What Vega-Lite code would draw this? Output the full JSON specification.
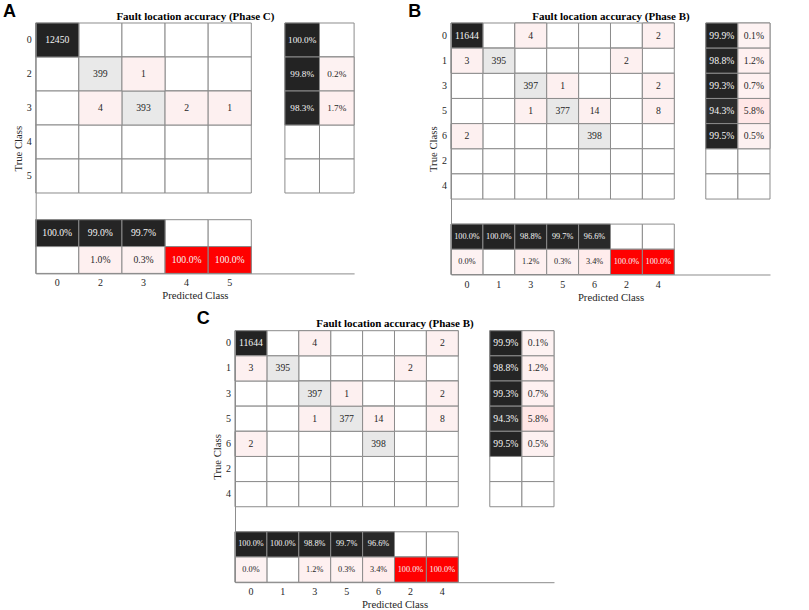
{
  "$schema": "https://vega.github.io/schema/vega-lite/v6.json",
  "autosize": {"type": "pad"},
  "padding": {"left": 2.7, "top": 2, "right": 0, "bottom": 0},
  "background": "white",
  "config": {
    "view": {"stroke": null},
    "font": "Liberation Serif",
    "text": {"font": "Liberation Serif", "fontSize": 10},
    "axis": {
      "labelFont": "Liberation Serif", "titleFont": "Liberation Serif",
      "labelFontSize": 10, "titleFontSize": 10.7,
      "labelColor": "#262626", "titleColor": "#262626", "titleFontWeight": "normal",
      "domainColor": "#8c8c8c", "domainWidth": 1, "ticks": false, "grid": false,
      "labelPadding": 4.5, "titlePadding": 3, "labelAngle": 0
    }
  },
  "datasets": {
    "A_main": [
      {"t":"0","p":"0","n":12450},{"t":"0","p":"2","n":null},{"t":"0","p":"3","n":null},{"t":"0","p":"4","n":null},{"t":"0","p":"5","n":null},
      {"t":"2","p":"0","n":null},{"t":"2","p":"2","n":399},{"t":"2","p":"3","n":1},{"t":"2","p":"4","n":null},{"t":"2","p":"5","n":null},
      {"t":"3","p":"0","n":null},{"t":"3","p":"2","n":4},{"t":"3","p":"3","n":393},{"t":"3","p":"4","n":2},{"t":"3","p":"5","n":1},
      {"t":"4","p":"0","n":null},{"t":"4","p":"2","n":null},{"t":"4","p":"3","n":null},{"t":"4","p":"4","n":null},{"t":"4","p":"5","n":null},
      {"t":"5","p":"0","n":null},{"t":"5","p":"2","n":null},{"t":"5","p":"3","n":null},{"t":"5","p":"4","n":null},{"t":"5","p":"5","n":null}
    ],
    "A_row": [
      {"t":"0","k":"c","v":1.0},{"t":"0","k":"e","v":null},
      {"t":"2","k":"c","v":0.998},{"t":"2","k":"e","v":0.002},
      {"t":"3","k":"c","v":0.983},{"t":"3","k":"e","v":0.017},
      {"t":"4","k":"c","v":null},{"t":"4","k":"e","v":null},
      {"t":"5","k":"c","v":null},{"t":"5","k":"e","v":null}
    ],
    "A_col": [
      {"p":"0","k":"c","v":1.0},{"p":"0","k":"e","v":null},
      {"p":"2","k":"c","v":0.990},{"p":"2","k":"e","v":0.010},
      {"p":"3","k":"c","v":0.997},{"p":"3","k":"e","v":0.003},
      {"p":"4","k":"c","v":null},{"p":"4","k":"e","v":1.0},
      {"p":"5","k":"c","v":null},{"p":"5","k":"e","v":1.0}
    ],
    "B_main": [
      {"t":"0","p":"0","n":11644},{"t":"0","p":"1","n":null},{"t":"0","p":"3","n":4},{"t":"0","p":"5","n":null},{"t":"0","p":"6","n":null},{"t":"0","p":"2","n":null},{"t":"0","p":"4","n":2},
      {"t":"1","p":"0","n":3},{"t":"1","p":"1","n":395},{"t":"1","p":"3","n":null},{"t":"1","p":"5","n":null},{"t":"1","p":"6","n":null},{"t":"1","p":"2","n":2},{"t":"1","p":"4","n":null},
      {"t":"3","p":"0","n":null},{"t":"3","p":"1","n":null},{"t":"3","p":"3","n":397},{"t":"3","p":"5","n":1},{"t":"3","p":"6","n":null},{"t":"3","p":"2","n":null},{"t":"3","p":"4","n":2},
      {"t":"5","p":"0","n":null},{"t":"5","p":"1","n":null},{"t":"5","p":"3","n":1},{"t":"5","p":"5","n":377},{"t":"5","p":"6","n":14},{"t":"5","p":"2","n":null},{"t":"5","p":"4","n":8},
      {"t":"6","p":"0","n":2},{"t":"6","p":"1","n":null},{"t":"6","p":"3","n":null},{"t":"6","p":"5","n":null},{"t":"6","p":"6","n":398},{"t":"6","p":"2","n":null},{"t":"6","p":"4","n":null},
      {"t":"2","p":"0","n":null},{"t":"2","p":"1","n":null},{"t":"2","p":"3","n":null},{"t":"2","p":"5","n":null},{"t":"2","p":"6","n":null},{"t":"2","p":"2","n":null},{"t":"2","p":"4","n":null},
      {"t":"4","p":"0","n":null},{"t":"4","p":"1","n":null},{"t":"4","p":"3","n":null},{"t":"4","p":"5","n":null},{"t":"4","p":"6","n":null},{"t":"4","p":"2","n":null},{"t":"4","p":"4","n":null}
    ],
    "B_row": [
      {"t":"0","k":"c","v":0.999},{"t":"0","k":"e","v":0.001},
      {"t":"1","k":"c","v":0.988},{"t":"1","k":"e","v":0.012},
      {"t":"3","k":"c","v":0.993},{"t":"3","k":"e","v":0.007},
      {"t":"5","k":"c","v":0.943},{"t":"5","k":"e","v":0.058},
      {"t":"6","k":"c","v":0.995},{"t":"6","k":"e","v":0.005},
      {"t":"2","k":"c","v":null},{"t":"2","k":"e","v":null},
      {"t":"4","k":"c","v":null},{"t":"4","k":"e","v":null}
    ],
    "B_col": [
      {"p":"0","k":"c","v":1.0},{"p":"0","k":"e","v":0.0},
      {"p":"1","k":"c","v":1.0},{"p":"1","k":"e","v":null},
      {"p":"3","k":"c","v":0.988},{"p":"3","k":"e","v":0.012},
      {"p":"5","k":"c","v":0.997},{"p":"5","k":"e","v":0.003},
      {"p":"6","k":"c","v":0.966},{"p":"6","k":"e","v":0.034},
      {"p":"2","k":"c","v":null},{"p":"2","k":"e","v":1.0},
      {"p":"4","k":"c","v":null},{"p":"4","k":"e","v":1.0}
    ]
  },
  "bounds": "flush",
  "spacing": 307.7,
  "vconcat": [
    {
      "bounds": "flush",
      "spacing": 96.3,
      "hconcat": [
        {
          "width": 318.4, "height": 250.4,
          "resolve": {"scale": {"x": "independent", "y": "independent", "fill": "independent"}},
          "layer": [
            {
              "data": {"name": "A_main"},
              "encoding": {
                "x": {"field": "p", "type": "nominal", "scale": {"domain": ["0","2","3","4","5"," ","  "], "paddingInner": 0, "paddingOuter": 0.192, "align": 0},
                      "axis": {"orient": "top", "labels": false, "domain": false, "title": "Fault location accuracy (Phase C)", "titleFontWeight": "bold", "titleColor": "#000000", "titleFontSize": 11, "titlePadding": 2}},
                "y": {"field": "t", "type": "nominal", "scale": {"domain": ["0","2","3","4","5"," ","  "], "paddingInner": 0, "paddingOuter": 0.1825, "align": 0},
                      "axis": {"orient": "left", "title": "True Class"}}
              },
              "layer": [
                {"mark": {"type": "rect", "fill": "#ffffff", "stroke": "#8c8c8c", "strokeWidth": 1}},
                {"transform": [{"filter": "datum.n != null && datum.p == datum.t"}],
                 "mark": {"type": "rect", "stroke": "#8c8c8c", "strokeWidth": 1},
                 "encoding": {"fill": {"field": "n", "type": "quantitative", "scale": {"range": ["#f0f0f0", "#232323"], "zero": true, "nice": false}, "legend": null}}},
                {"transform": [{"filter": "datum.n != null && datum.p != datum.t"}],
                 "mark": {"type": "rect", "fill": "#fdf0f0", "stroke": "#8c8c8c", "strokeWidth": 1}},
                {"transform": [{"filter": "datum.n != null"}],
                 "mark": {"type": "text", "fontSize": 9.7},
                 "encoding": {"text": {"field": "n", "type": "quantitative", "format": "d"},
                              "color": {"condition": {"test": "datum.n > 5000", "value": "#f5f5f5"}, "value": "#262626"}}},
                {"data": {"values": [{"label": "A"}]},
                 "mark": {"type": "text", "font": "Liberation Sans", "fontWeight": "bold", "fontSize": 18, "align": "left", "baseline": "top", "dx": -32.6, "dy": -20.3, "color": "#000000"},
                 "encoding": {"x": {"datum": "0", "type": "nominal", "bandPosition": 0}, "y": {"datum": "0", "type": "nominal", "bandPosition": 0}, "text": {"field": "label"}}}
              ]
            },
            {
              "data": {"name": "A_row"},
              "encoding": {
                "x": {"field": "k", "type": "nominal", "scale": {"domain": ["d1","d2","d3","d4","d5","d6","d7","c","e"], "paddingInner": 0, "paddingOuter": 0.101, "align": 1}, "axis": null},
                "y": {"field": "t", "type": "nominal", "scale": {"domain": ["0","2","3","4","5"," ","  "], "paddingInner": 0, "paddingOuter": 0.1825, "align": 0}, "axis": null}
              },
              "resolve": {"scale": {"fill": "independent"}},
              "layer": [
                {"mark": {"type": "rect", "fill": "#ffffff", "stroke": "#8c8c8c", "strokeWidth": 1}},
                {"transform": [{"filter": "datum.v != null && datum.k == 'c'"}],
                 "mark": {"type": "rect", "stroke": "#8c8c8c", "strokeWidth": 1},
                 "encoding": {"fill": {"field": "v", "type": "quantitative", "scale": {"domain": [0, 1], "range": ["#f2f2f2", "#232323"]}, "legend": null}}},
                {"transform": [{"filter": "datum.v != null && datum.k == 'e'"}],
                 "mark": {"type": "rect", "stroke": "#8c8c8c", "strokeWidth": 1},
                 "encoding": {"fill": {"field": "v", "type": "quantitative", "scale": {"domain": [0, 1], "range": ["#fdf2f2", "#ff0000"]}, "legend": null}}},
                {"transform": [{"filter": "datum.v != null"}],
                 "mark": {"type": "text", "fontSize": 9.2},
                 "encoding": {"text": {"field": "v", "type": "quantitative", "format": ".1%"},
                              "color": {"condition": {"test": "datum.v > 0.5", "value": "#f5f5f5"}, "value": "#262626"}}}
              ]
            },
            {
              "data": {"name": "A_col"},
              "encoding": {
                "x": {"field": "p", "type": "nominal", "scale": {"domain": ["0","2","3","4","5"," ","  "], "paddingInner": 0, "paddingOuter": 0.192, "align": 0},
                      "axis": {"orient": "bottom", "title": "Predicted Class"}},
                "y": {"field": "k", "type": "nominal", "scale": {"domain": ["d1","d2","d3","d4","d5","d6","d7","c","e"], "paddingInner": 0, "paddingOuter": 0.163, "align": 1}, "axis": null}
              },
              "resolve": {"scale": {"fill": "independent"}},
              "layer": [
                {"mark": {"type": "rect", "fill": "#ffffff", "stroke": "#8c8c8c", "strokeWidth": 1}},
                {"transform": [{"filter": "datum.v != null && datum.k == 'c'"}],
                 "mark": {"type": "rect", "stroke": "#8c8c8c", "strokeWidth": 1},
                 "encoding": {"fill": {"field": "v", "type": "quantitative", "scale": {"domain": [0, 1], "range": ["#f2f2f2", "#232323"]}, "legend": null}}},
                {"transform": [{"filter": "datum.v != null && datum.k == 'e'"}],
                 "mark": {"type": "rect", "stroke": "#8c8c8c", "strokeWidth": 1},
                 "encoding": {"fill": {"field": "v", "type": "quantitative", "scale": {"domain": [0, 1], "range": ["#fdf2f2", "#ff0000"]}, "legend": null}}},
                {"transform": [{"filter": "datum.v != null"}],
                 "mark": {"type": "text", "fontSize": 9.7},
                 "encoding": {"text": {"field": "v", "type": "quantitative", "format": ".1%"},
                              "color": {"condition": {"test": "datum.v > 0.5", "value": "#f5f5f5"}, "value": "#262626"}}}
              ]
            }
          ]
        },
        {
          "width": 319, "height": 251.5,
          "resolve": {"scale": {"x": "independent", "y": "independent", "fill": "independent"}},
          "layer": [
            {
              "data": {"name": "B_main"},
              "encoding": {
                "x": {"field": "p", "type": "nominal", "scale": {"domain": ["0","1","3","5","6","2","4"," ","  ","   "], "paddingInner": 0, "paddingOuter": 0, "align": 0},
                      "axis": {"orient": "top", "labels": false, "domain": false, "title": "Fault location accuracy (Phase B)", "titleFontWeight": "bold", "titleColor": "#000000", "titleFontSize": 11, "titlePadding": 2}},
                "y": {"field": "t", "type": "nominal", "scale": {"domain": ["0","1","3","5","6","2","4"," ","  ","   "], "paddingInner": 0, "paddingOuter": 0, "align": 0},
                      "axis": {"orient": "left", "title": "True Class"}}
              },
              "layer": [
                {"mark": {"type": "rect", "fill": "#ffffff", "stroke": "#8c8c8c", "strokeWidth": 1}},
                {"transform": [{"filter": "datum.n != null && datum.p == datum.t"}],
                 "mark": {"type": "rect", "stroke": "#8c8c8c", "strokeWidth": 1},
                 "encoding": {"fill": {"field": "n", "type": "quantitative", "scale": {"range": ["#f0f0f0", "#232323"], "zero": true, "nice": false}, "legend": null}}},
                {"transform": [{"filter": "datum.n != null && datum.p != datum.t"}],
                 "mark": {"type": "rect", "fill": "#fdf0f0", "stroke": "#8c8c8c", "strokeWidth": 1}},
                {"transform": [{"filter": "datum.n != null"}],
                 "mark": {"type": "text", "fontSize": 9.7},
                 "encoding": {"text": {"field": "n", "type": "quantitative", "format": "d"},
                              "color": {"condition": {"test": "datum.n > 5000", "value": "#f5f5f5"}, "value": "#262626"}}},
                {"data": {"values": [{"label": "B"}]},
                 "mark": {"type": "text", "font": "Liberation Sans", "fontWeight": "bold", "fontSize": 18, "align": "left", "baseline": "top", "dx": -42.7, "dy": -20.3, "color": "#000000"},
                 "encoding": {"x": {"datum": "0", "type": "nominal", "bandPosition": 0}, "y": {"datum": "0", "type": "nominal", "bandPosition": 0}, "text": {"field": "label"}}}
              ]
            },
            {
              "data": {"name": "B_row"},
              "encoding": {
                "x": {"field": "k", "type": "nominal", "scale": {"domain": ["d1","d2","d3","d4","d5","d6","d7","c","e"], "paddingInner": 0, "paddingOuter": 0.469, "align": 1}, "axis": null},
                "y": {"field": "t", "type": "nominal", "scale": {"domain": ["0","1","3","5","6","2","4"," ","  ","   "], "paddingInner": 0, "paddingOuter": 0, "align": 0}, "axis": null}
              },
              "resolve": {"scale": {"fill": "independent"}},
              "layer": [
                {"mark": {"type": "rect", "fill": "#ffffff", "stroke": "#8c8c8c", "strokeWidth": 1}},
                {"transform": [{"filter": "datum.v != null && datum.k == 'c'"}],
                 "mark": {"type": "rect", "stroke": "#8c8c8c", "strokeWidth": 1},
                 "encoding": {"fill": {"field": "v", "type": "quantitative", "scale": {"domain": [0, 1], "range": ["#f2f2f2", "#232323"]}, "legend": null}}},
                {"transform": [{"filter": "datum.v != null && datum.k == 'e'"}],
                 "mark": {"type": "rect", "stroke": "#8c8c8c", "strokeWidth": 1},
                 "encoding": {"fill": {"field": "v", "type": "quantitative", "scale": {"domain": [0, 1], "range": ["#fdf2f2", "#ff0000"]}, "legend": null}}},
                {"transform": [{"filter": "datum.v != null"}],
                 "mark": {"type": "text", "fontSize": 9.7},
                 "encoding": {"text": {"field": "v", "type": "quantitative", "format": ".1%"},
                              "color": {"condition": {"test": "datum.v > 0.5", "value": "#f5f5f5"}, "value": "#262626"}}}
              ]
            },
            {
              "data": {"name": "B_col"},
              "encoding": {
                "x": {"field": "p", "type": "nominal", "scale": {"domain": ["0","1","3","5","6","2","4"," ","  ","   "], "paddingInner": 0, "paddingOuter": 0, "align": 0},
                      "axis": {"orient": "bottom", "title": "Predicted Class"}},
                "y": {"field": "k", "type": "nominal", "scale": {"domain": ["d1","d2","d3","d4","d5","d6","d7","c","e"], "paddingInner": 0, "paddingOuter": 0.49, "align": 1}, "axis": null}
              },
              "resolve": {"scale": {"fill": "independent"}},
              "layer": [
                {"mark": {"type": "rect", "fill": "#ffffff", "stroke": "#8c8c8c", "strokeWidth": 1}},
                {"transform": [{"filter": "datum.v != null && datum.k == 'c'"}],
                 "mark": {"type": "rect", "stroke": "#8c8c8c", "strokeWidth": 1},
                 "encoding": {"fill": {"field": "v", "type": "quantitative", "scale": {"domain": [0, 1], "range": ["#f2f2f2", "#232323"]}, "legend": null}}},
                {"transform": [{"filter": "datum.v != null && datum.k == 'e'"}],
                 "mark": {"type": "rect", "stroke": "#8c8c8c", "strokeWidth": 1},
                 "encoding": {"fill": {"field": "v", "type": "quantitative", "scale": {"domain": [0, 1], "range": ["#fdf2f2", "#ff0000"]}, "legend": null}}},
                {"transform": [{"filter": "datum.v != null"}],
                 "mark": {"type": "text", "fontSize": 8.3},
                 "encoding": {"text": {"field": "v", "type": "quantitative", "format": ".1%"},
                              "color": {"condition": {"test": "datum.v > 0.5", "value": "#f5f5f5"}, "value": "#262626"}}}
              ]
            }
          ]
        }
      ]
    },
    {
      "bounds": "flush",
      "spacing": 96.3,
      "hconcat": [
        {
          "width": 102.7, "height": 1,
          "data": {"values": [{"s": 0}]},
          "mark": {"type": "point", "opacity": 0},
          "encoding": {}
        },
        {
          "width": 319, "height": 251.5,
          "resolve": {"scale": {"x": "independent", "y": "independent", "fill": "independent"}},
          "layer": [
            {
              "data": {"name": "B_main"},
              "encoding": {
                "x": {"field": "p", "type": "nominal", "scale": {"domain": ["0","1","3","5","6","2","4"," ","  ","   "], "paddingInner": 0, "paddingOuter": 0, "align": 0},
                      "axis": {"orient": "top", "labels": false, "domain": false, "title": "Fault location accuracy (Phase B)", "titleFontWeight": "bold", "titleColor": "#000000", "titleFontSize": 11, "titlePadding": 2}},
                "y": {"field": "t", "type": "nominal", "scale": {"domain": ["0","1","3","5","6","2","4"," ","  ","   "], "paddingInner": 0, "paddingOuter": 0, "align": 0},
                      "axis": {"orient": "left", "title": "True Class"}}
              },
              "layer": [
                {"mark": {"type": "rect", "fill": "#ffffff", "stroke": "#8c8c8c", "strokeWidth": 1}},
                {"transform": [{"filter": "datum.n != null && datum.p == datum.t"}],
                 "mark": {"type": "rect", "stroke": "#8c8c8c", "strokeWidth": 1},
                 "encoding": {"fill": {"field": "n", "type": "quantitative", "scale": {"range": ["#f0f0f0", "#232323"], "zero": true, "nice": false}, "legend": null}}},
                {"transform": [{"filter": "datum.n != null && datum.p != datum.t"}],
                 "mark": {"type": "rect", "fill": "#fdf0f0", "stroke": "#8c8c8c", "strokeWidth": 1}},
                {"transform": [{"filter": "datum.n != null"}],
                 "mark": {"type": "text", "fontSize": 9.7},
                 "encoding": {"text": {"field": "n", "type": "quantitative", "format": "d"},
                              "color": {"condition": {"test": "datum.n > 5000", "value": "#f5f5f5"}, "value": "#262626"}}},
                {"data": {"values": [{"label": "C"}]},
                 "mark": {"type": "text", "font": "Liberation Sans", "fontWeight": "bold", "fontSize": 18, "align": "left", "baseline": "top", "dx": -38.3, "dy": -20.3, "color": "#000000"},
                 "encoding": {"x": {"datum": "0", "type": "nominal", "bandPosition": 0}, "y": {"datum": "0", "type": "nominal", "bandPosition": 0}, "text": {"field": "label"}}}
              ]
            },
            {
              "data": {"name": "B_row"},
              "encoding": {
                "x": {"field": "k", "type": "nominal", "scale": {"domain": ["d1","d2","d3","d4","d5","d6","d7","c","e"], "paddingInner": 0, "paddingOuter": 0.469, "align": 1}, "axis": null},
                "y": {"field": "t", "type": "nominal", "scale": {"domain": ["0","1","3","5","6","2","4"," ","  ","   "], "paddingInner": 0, "paddingOuter": 0, "align": 0}, "axis": null}
              },
              "resolve": {"scale": {"fill": "independent"}},
              "layer": [
                {"mark": {"type": "rect", "fill": "#ffffff", "stroke": "#8c8c8c", "strokeWidth": 1}},
                {"transform": [{"filter": "datum.v != null && datum.k == 'c'"}],
                 "mark": {"type": "rect", "stroke": "#8c8c8c", "strokeWidth": 1},
                 "encoding": {"fill": {"field": "v", "type": "quantitative", "scale": {"domain": [0, 1], "range": ["#f2f2f2", "#232323"]}, "legend": null}}},
                {"transform": [{"filter": "datum.v != null && datum.k == 'e'"}],
                 "mark": {"type": "rect", "stroke": "#8c8c8c", "strokeWidth": 1},
                 "encoding": {"fill": {"field": "v", "type": "quantitative", "scale": {"domain": [0, 1], "range": ["#fdf2f2", "#ff0000"]}, "legend": null}}},
                {"transform": [{"filter": "datum.v != null"}],
                 "mark": {"type": "text", "fontSize": 9.7},
                 "encoding": {"text": {"field": "v", "type": "quantitative", "format": ".1%"},
                              "color": {"condition": {"test": "datum.v > 0.5", "value": "#f5f5f5"}, "value": "#262626"}}}
              ]
            },
            {
              "data": {"name": "B_col"},
              "encoding": {
                "x": {"field": "p", "type": "nominal", "scale": {"domain": ["0","1","3","5","6","2","4"," ","  ","   "], "paddingInner": 0, "paddingOuter": 0, "align": 0},
                      "axis": {"orient": "bottom", "title": "Predicted Class"}},
                "y": {"field": "k", "type": "nominal", "scale": {"domain": ["d1","d2","d3","d4","d5","d6","d7","c","e"], "paddingInner": 0, "paddingOuter": 0.49, "align": 1}, "axis": null}
              },
              "resolve": {"scale": {"fill": "independent"}},
              "layer": [
                {"mark": {"type": "rect", "fill": "#ffffff", "stroke": "#8c8c8c", "strokeWidth": 1}},
                {"transform": [{"filter": "datum.v != null && datum.k == 'c'"}],
                 "mark": {"type": "rect", "stroke": "#8c8c8c", "strokeWidth": 1},
                 "encoding": {"fill": {"field": "v", "type": "quantitative", "scale": {"domain": [0, 1], "range": ["#f2f2f2", "#232323"]}, "legend": null}}},
                {"transform": [{"filter": "datum.v != null && datum.k == 'e'"}],
                 "mark": {"type": "rect", "stroke": "#8c8c8c", "strokeWidth": 1},
                 "encoding": {"fill": {"field": "v", "type": "quantitative", "scale": {"domain": [0, 1], "range": ["#fdf2f2", "#ff0000"]}, "legend": null}}},
                {"transform": [{"filter": "datum.v != null"}],
                 "mark": {"type": "text", "fontSize": 8.3},
                 "encoding": {"text": {"field": "v", "type": "quantitative", "format": ".1%"},
                              "color": {"condition": {"test": "datum.v > 0.5", "value": "#f5f5f5"}, "value": "#262626"}}}
              ]
            }
          ]
        }
      ]
    }
  ]
}
